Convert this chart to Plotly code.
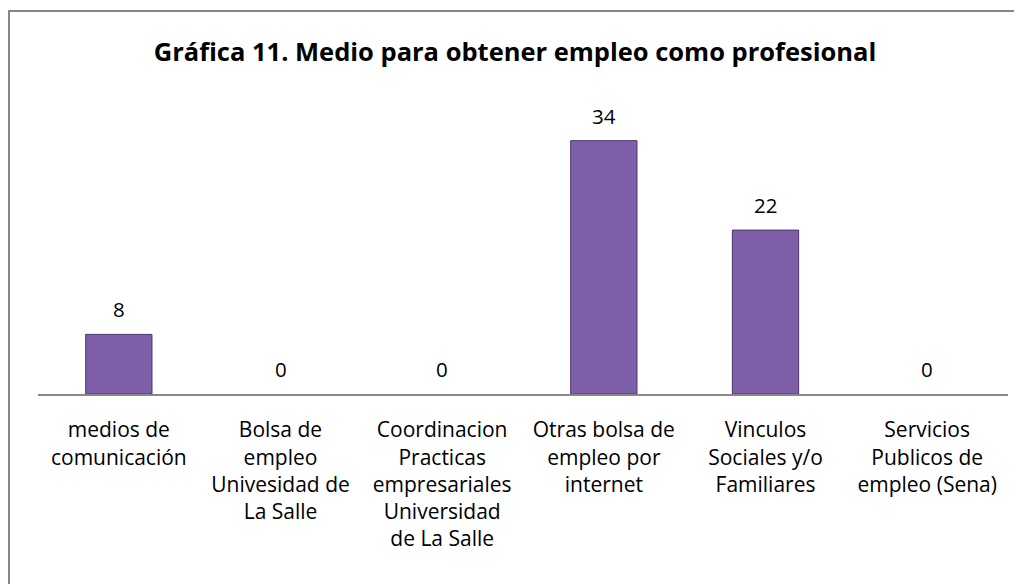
import plotly.graph_objects as go

categories = [
    "medios de<br>comunicación",
    "Bolsa de<br>empleo<br>Univesidad de<br>La Salle",
    "Coordinacion<br>Practicas<br>empresariales<br>Universidad<br>de La Salle",
    "Otras bolsa de<br>empleo por<br>internet",
    "Vinculos<br>Sociales y/o<br>Familiares",
    "Servicios<br>Publicos de<br>empleo (Sena)",
]
values = [8, 0, 0, 34, 22, 0]
title_text = "Gráfica 11. Medio para obtener empleo como profesional"

FONT = "Open Sans"

fig = go.Figure()
fig.add_trace(go.Bar(
    x=categories, y=values, width=0.41,
    marker=dict(color="#7e60a8",
                line=dict(color="#4a3270", width=[1 if v else 0 for v in values])),
    hoverinfo="skip",
))

for c, v in zip(categories, values):
    fig.add_annotation(x=c, y=v, text=str(v), showarrow=False,
                       yanchor="middle", yshift=25,
                       font=dict(family=FONT, size=20.5, color="#000"))

OFF = 8  # page body margin
W, H = 1022 - OFF, 584 - OFF
L, R, T, B = 38 - OFF, 14, 96 - OFF, 190
pw, ph = W - L - R, H - T - B
def px(x): return (x - OFF - L) / pw
def py(y): return (H - B - (y - OFF)) / ph

fig.add_shape(type="rect", xref="paper", yref="paper",
              x0=px(9), x1=px(1040), y0=py(11), y1=py(620),
              line=dict(color="#868686", width=2), fillcolor="rgba(0,0,0,0)", layer="below")

fig.update_layout(
    width=W, height=H,
    margin=dict(l=L, r=R, t=T, b=B),
    paper_bgcolor="white", plot_bgcolor="white",
    showlegend=False,
    title=dict(text="<b>" + title_text + "</b>", x=0.5, xanchor="center",
               y=1 - (52 - OFF) / H, yanchor="middle",
               font=dict(family=FONT, size=25.5, color="#000")),
    xaxis=dict(showline=True, linecolor="#888888", linewidth=2,
               showgrid=False, ticks="", tickangle=0, ticklabelstandoff=16,
               tickfont=dict(family=FONT, size=21, color="#000")),
    yaxis=dict(range=[0, 40], visible=False, showgrid=False),
)

fig.write_html("out.html")
